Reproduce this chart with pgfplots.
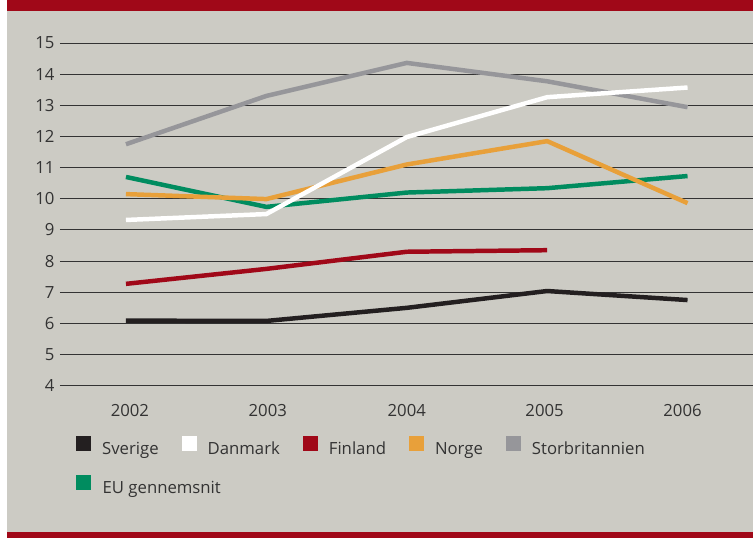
\documentclass[border=0pt]{standalone}
\usepackage{pgfplots}
\pgfplotsset{compat=1.18}
\usepackage{fontspec}
\setmainfont{Open Sans}
\definecolor{bg}{HTML}{CCCBC4}
\definecolor{band}{HTML}{A00818}
\definecolor{txt}{HTML}{333333}
\definecolor{cSve}{HTML}{231F20}
\definecolor{cDan}{HTML}{FFFFFF}
\definecolor{cFin}{HTML}{A00818}
\definecolor{cNor}{HTML}{E8A03A}
\definecolor{cStor}{HTML}{96969A}
\definecolor{cEU}{HTML}{008C5F}
\begin{document}
\begin{tikzpicture}[x=1bp,y=1bp]
\fill[white] (0,0) rectangle (753,538);
\fill[bg] (7,0) rectangle (753,538);
\fill[band] (7,527) rectangle (753,538);
\fill[band] (7,0) rectangle (753,5.3);
\begin{axis}[
  at={(60bp,152bp)}, anchor=south west,
  scale only axis, width=693bp, height=343bp,
  xmin=2001.530, xmax=2006.463, ymin=4, ymax=15,
  axis line style={draw=none},
  major tick length=0pt,
  xtick={2002.028,2003.010,2004.000,2004.982,2005.964},
  xticklabels={2002,2003,2004,2005,2006},
  ytick={4,5,...,15},
  ymajorgrids, grid style={draw=black!80, line width=0.9pt},
  /pgf/number format/assume math mode=true,
  tick label style={font=\fontsize{16.8}{19}\selectfont, text=txt},
  xticklabel style={yshift=-15bp},
  yticklabel style={xshift=-2bp},
  clip=false,
  legend columns=5,
  legend cell align=left,
  legend image code/.code={\fill[#1,draw=none] (0bp,-1.5bp) rectangle (15bp,13.5bp);},
  legend style={draw=none, fill=none, inner sep=0pt,
    at={(axis description cs:0.0231,-0.147)}, anchor=north west,
    font=\fontsize{16.8}{19}\selectfont, text=txt,
    nodes={inner sep=0pt, text height=13.5bp, text depth=4bp},
    row sep=16.5bp,
    /tikz/every odd column/.append style={column sep=11bp},
    /tikz/every even column/.append style={column sep=23bp}},
]
\addlegendimage{color=cSve}\addlegendentry{Sverige}
\addlegendimage{color=cDan}\addlegendentry{Danmark}
\addlegendimage{color=cFin}\addlegendentry{Finland}
\addlegendimage{color=cNor}\addlegendentry{Norge}
\addlegendimage{color=cStor}\addlegendentry{Storbritannien}
\addlegendimage{color=cEU}\addlegendentry{\makebox[0pt][l]{EU gennemsnit}}

\addplot[color=cEU, line width=4.5pt, forget plot] coordinates {(2002,10.70) (2003,9.74) (2004,10.20) (2005,10.34) (2006,10.73)};
\addplot[color=cSve, line width=4.5pt, forget plot] coordinates {(2002,6.09) (2003,6.08) (2004,6.50) (2005,7.04) (2006,6.75)};
\addplot[color=cFin, line width=4.5pt, forget plot] coordinates {(2002,7.27) (2003,7.75) (2004,8.30) (2005,8.35)};
\addplot[color=cNor, line width=4.5pt, forget plot] coordinates {(2002,10.15) (2003,9.99) (2004,11.10) (2005,11.85) (2006,9.86)};
\addplot[color=cStor, line width=4.5pt, forget plot] coordinates {(2002,11.75) (2003,13.30) (2004,14.36) (2005,13.77) (2006,12.94)};
\addplot[color=cDan, line width=4.5pt, forget plot] coordinates {(2002,9.32) (2003,9.51) (2004,11.98) (2005,13.26) (2006,13.57)};
\end{axis}
\end{tikzpicture}
\end{document}
